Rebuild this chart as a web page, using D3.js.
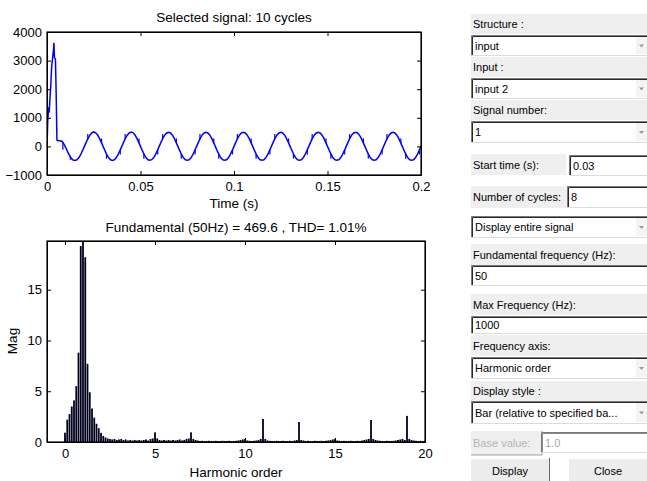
<!DOCTYPE html>
<html lang="en">
<head>
<meta charset="UTF-8">
<title>FFT Analysis</title>
<script src="https://cdn.jsdelivr.net/npm/d3@7"></script>
<style>
  body { margin: 0; background: #fff; }
  svg { display: block; }
  .tick text { font-family: "Liberation Sans", Arial, sans-serif; font-size: 13px; fill: #000; }
  .ttl { font-family: "Liberation Sans", Arial, sans-serif; font-size: 13.5px; fill: #000; }
  .gui { font-family: "Liberation Sans", Arial, sans-serif; font-size: 11px; }
</style>
</head>
<body>
<script>

// ---- top plot: selected signal ----
// start of the record (time s, value)
const startT = [0, 0.0004, 0.0008, 0.0012, 0.0016, 0.002, 0.0025, 0.003, 0.0035, 0.0037, 0.004, 0.0045, 0.0049, 0.0053, 0.006, 0.007, 0.008, 0.009];
const startV = [0, 900, 1300, 1250, 1700, 2100, 2800, 3100, 3400, 3620, 3100, 3050, 1900, 220, 200, 200, 180, 90];

// steady part, one sample per ms from 0.010 s
const steadyT0 = 0.010;
const steadyV = [
  -40, -180, -310, -420, -475, -490, -470, -400, -290, -150, 0, 150, 290, 400, 470, 505, 475, 405, 290, 150,
  0, -150, -290, -400, -470, -490, -470, -400, -290, -150, 0, 150, 290, 400, 470, 500, 475, 405, 290, 150,
  0, -150, -290, -400, -470, -485, -465, -400, -290, -150, 0, 150, 290, 400, 470, 495, 470, 400, 290, 150,
  0, -150, -290, -400, -470, -485, -470, -400, -290, -150, 0, 150, 290, 400, 470, 495, 470, 400, 290, 150,
  0, -150, -290, -400, -465, -480, -465, -400, -290, -150, 0, 150, 290, 400, 470, 495, 470, 400, 290, 150,
  0, -150, -290, -400, -465, -480, -465, -400, -290, -150, 0, 150, 290, 400, 470, 495, 470, 400, 290, 150,
  0, -150, -290, -400, -465, -480, -465, -400, -290, -150, 0, 150, 290, 400, 470, 495, 470, 400, 290, 150,
  0, -150, -290, -400, -465, -480, -465, -400, -290, -150, 0, 150, 290, 400, 470, 495, 470, 400, 290, 150,
  0, -150, -290, -400, -465, -480, -465, -400, -290, -150, 0, 150, 290, 400, 470, 495, 470, 400, 290, 150,
  0, -150, -290, -400, -465, -480, -465, -400, -290, -150, 0
];

// small commutation notches [time, from, to]
const notches = [
  [0.0085, 150, -120], [0.0125, -330, -470],
  [0.0218, 260, 430], [0.0292, 120, 280], [0.0318, -260, -430], [0.0392, -120, -280],
  [0.0418, 260, 430], [0.0492, 120, 280], [0.0518, -260, -430], [0.0592, -120, -280],
  [0.0618, 260, 430], [0.0692, 120, 280], [0.0718, -260, -430], [0.0792, -120, -280],
  [0.0818, 260, 430], [0.0892, 120, 280], [0.0918, -260, -430], [0.0992, -120, -280],
  [0.1018, 260, 430], [0.1092, 120, 280], [0.1118, -260, -430], [0.1192, -120, -280],
  [0.1218, 260, 430], [0.1292, 120, 280], [0.1318, -260, -430], [0.1392, -120, -280],
  [0.1418, 260, 430], [0.1492, 120, 280], [0.1518, -260, -430], [0.1592, -120, -280],
  [0.1618, 260, 430], [0.1692, 120, 280], [0.1718, -260, -430], [0.1792, -120, -280],
  [0.1818, 260, 430], [0.1892, 120, 280], [0.1918, -260, -430], [0.1992, -120, -280]
];

const topTitle = "Selected signal: 10 cycles";
const topXTicks = [0, 0.05, 0.1, 0.15, 0.2];
const topYTicks = [-1000, 0, 1000, 2000, 3000, 4000];

// ---- bottom plot: spectrum, one bar every 1/8 harmonic ----
const binStep = 0.125;
const mag = [
  0.92, 2.2, 2.75, 3.5, 4.1, 5.5, 8.8, 19.3, 469.6, 18.2,
  7.7, 4.9, 3.3, 2.4, 1.8, 1.35, 0.9, 0.6, 0.45, 0.35,
  0.3, 0.25, 0.3, 0.2, 0.25, 0.3, 0.2, 0.25, 0.15, 0.2,
  0.15, 0.2, 0.15, 0.2, 0.15, 0.2, 0.25, 0.15, 0.3, 0.35,
  0.95, 0.35, 0.2, 0.15, 0.2, 0.15, 0.2, 0.15, 0.2, 0.15,
  0.2, 0.25, 0.15, 0.2, 0.3, 0.35, 0.95, 0.3, 0.2, 0.15,
  0.1, 0.12, 0.1, 0.1, 0.12, 0.1, 0.1, 0.12, 0.1, 0.1,
  0.12, 0.1, 0.1, 0.12, 0.1, 0.1, 0.12, 0.15, 0.2, 0.25,
  0.3, 0.15, 0.12, 0.1, 0.12, 0.15, 0.2, 0.3, 2.27, 0.3,
  0.15, 0.12, 0.1, 0.1, 0.12, 0.1, 0.1, 0.12, 0.1, 0.1,
  0.12, 0.1, 0.15, 0.2, 1.97, 0.2, 0.15, 0.1, 0.12, 0.1,
  0.1, 0.12, 0.1, 0.1, 0.12, 0.1, 0.12, 0.15, 0.2, 0.25,
  0.3, 0.15, 0.12, 0.1, 0.12, 0.1, 0.1, 0.12, 0.1, 0.1,
  0.12, 0.1, 0.15, 0.2, 0.25, 0.3, 2.17, 0.3, 0.2, 0.15,
  0.12, 0.1, 0.1, 0.12, 0.1, 0.1, 0.12, 0.15, 0.2, 0.25,
  0.3, 0.2, 2.57, 0.3, 0.2, 0.15, 0.12, 0.1, 0.12, 0.1,
  0.12
];
const botTitle = "Fundamental (50Hz) = 469.6 , THD= 1.01%";
const botXTicks = [0, 5, 10, 15, 20];
const botYTicks = [0, 5, 10, 15];

// ---- control panel ----
// type, text, x, y, w, h
const controls = [
  ["label", "Structure :", 471, 14, 190, 20],
  ["popup", "input", 471, 35, 190, 21],
  ["label", "Input :", 471, 57, 190, 20],
  ["popup", "input 2", 471, 78, 190, 21],
  ["label", "Signal number:", 471, 100, 190, 20],
  ["popup", "1", 471, 121, 190, 22],
  ["label", "Start time (s):", 471, 154, 95, 21],
  ["edit", "0.03", 569, 155, 90, 21],
  ["label", "Number of cycles:", 471, 186, 96, 22],
  ["edit", "8", 567, 186, 90, 22],
  ["popup", "Display entire signal", 471, 216, 190, 22],
  ["label", "Fundamental frequency (Hz):", 471, 244, 190, 21],
  ["edit", "50", 471, 265, 190, 21],
  ["label", "Max Frequency (Hz):", 471, 294, 190, 21],
  ["edit", "1000", 471, 316, 190, 18],
  ["label", "Frequency axis:", 471, 335, 190, 21],
  ["popup", "Harmonic order", 471, 357, 190, 22],
  ["label", "Display style :", 471, 381, 190, 20],
  ["popup", "Bar (relative to specified ba...", 471, 401, 190, 23],
  ["dlabel", "Base value:", 471, 431, 71, 24],
  ["dedit", "1.0", 541, 432, 120, 21],
  ["button", "Display", 470, 458, 80, 24],
  ["button", "Close", 568, 458, 80, 24]
];

const W = 647, H = 481;
const svg = d3.select("body").append("svg").attr("width", W).attr("height", H);

function boxAxes(g, x, y, xTicks, yTicks, fmtX, fmtY) {
  const [x0, x1] = x.range(), [y0, y1] = y.range();
  g.append("g").attr("transform", `translate(0,${y0})`)
    .call(d3.axisBottom(x).tickValues(xTicks).tickSize(-4).tickSizeOuter(0).tickPadding(7).tickFormat(fmtX));
  g.append("g").attr("transform", `translate(0,${y1})`)
    .call(d3.axisTop(x).tickValues(xTicks).tickSize(-4).tickSizeOuter(0).tickFormat(""));
  g.append("g").attr("transform", `translate(${x0},0)`)
    .call(d3.axisLeft(y).tickValues(yTicks).tickSize(-4).tickSizeOuter(0).tickPadding(5).tickFormat(fmtY));
  g.append("g").attr("transform", `translate(${x1},0)`)
    .call(d3.axisRight(y).tickValues(yTicks).tickSize(-4).tickSizeOuter(0).tickFormat(""));
  g.selectAll(".domain, .tick line").attr("stroke", "#000");
  g.append("rect").attr("x", x0).attr("y", y1).attr("width", x1 - x0).attr("height", y0 - y1)
    .attr("fill", "none").attr("stroke", "#000").attr("stroke-width", 1.2);
}

// ---- top plot ----
const xT = d3.scaleLinear().domain([0, 0.2]).range([47, 421]);
const yT = d3.scaleLinear().domain([-1000, 4000]).range([175, 32]);

const sig = startT.map((t, i) => [t, startV[i]])
  .concat(steadyV.map((v, i) => [steadyT0 + i * 0.001, v]));

svg.append("clipPath").attr("id", "clipT").append("rect")
  .attr("x", 47).attr("y", 32).attr("width", 374).attr("height", 143);

const gT = svg.append("g");
gT.append("path").datum(sig)
  .attr("clip-path", "url(#clipT)")
  .attr("fill", "none").attr("stroke", "#0000ff").attr("stroke-width", 1.5)
  .attr("d", d3.line().x(d => xT(d[0])).y(d => yT(d[1])));
gT.append("g").attr("clip-path", "url(#clipT)").selectAll("line").data(notches).join("line")
  .attr("x1", d => xT(d[0])).attr("x2", d => xT(d[0]))
  .attr("y1", d => yT(d[1])).attr("y2", d => yT(d[2]))
  .attr("stroke", "#0000ff").attr("stroke-width", 1.2);
boxAxes(gT, xT, yT, topXTicks, topYTicks, d3.format(""), d3.format("d"));

gT.append("text").attr("class", "ttl").attr("x", 234).attr("y", 22).attr("text-anchor", "middle").text(topTitle);
gT.append("text").attr("class", "ttl").attr("x", 234).attr("y", 208).attr("text-anchor", "middle").text("Time (s)");

// ---- bottom plot ----
const xB = d3.scaleLinear().domain([-1, 20]).range([47, 425]);
const yB = d3.scaleLinear().domain([0, 19.8]).range([442, 241]);

svg.append("clipPath").attr("id", "clipB").append("rect")
  .attr("x", 47).attr("y", 241).attr("width", 378).attr("height", 201);

const gB = svg.append("g");
const bw = xB(binStep * 0.8) - xB(0);
gB.append("g").attr("clip-path", "url(#clipB)").selectAll("rect").data(mag).join("rect")
  .attr("x", (d, i) => xB(i * binStep) - bw / 2)
  .attr("width", bw)
  .attr("y", d => yB(d))
  .attr("height", d => yB(0) - yB(d))
  .attr("fill", "#00001e");
boxAxes(gB, xB, yB, botXTicks, botYTicks, d3.format("d"), d3.format("d"));

gB.append("text").attr("class", "ttl").attr("x", 236).attr("y", 232).attr("text-anchor", "middle").text(botTitle);
gB.append("text").attr("class", "ttl").attr("x", 236).attr("y", 477).attr("text-anchor", "middle").text("Harmonic order");
gB.append("text").attr("class", "ttl").attr("transform", "translate(17,341) rotate(-90)")
  .attr("text-anchor", "middle").text("Mag");

// ---- control panel ----
const gG = svg.append("g");
controls.forEach(([type, txt, x, y, w, h]) => {
  const c = gG.append("g");
  const dim = type === "dlabel" || type === "dedit";
  if (type === "label" || type === "dlabel") {
    c.append("rect").attr("x", x).attr("y", y).attr("width", w).attr("height", h).attr("fill", "#efefef");
    c.append("text").attr("class", "gui").attr("x", x + 2).attr("y", y + h / 2 + 4)
      .style("fill", dim ? "#b4b4b4" : "#000").text(txt);
    if (dim) {
      c.append("line").attr("x1", x + w).attr("x2", x + w).attr("y1", y).attr("y2", y + h).attr("stroke", "#a0a0a0");
      c.append("line").attr("x1", x).attr("x2", x + w).attr("y1", y + h).attr("y2", y + h).attr("stroke", "#a0a0a0");
    }
  } else if (type === "button") {
    c.append("rect").attr("x", x).attr("y", y).attr("width", w).attr("height", h).attr("fill", "#ececec");
    c.append("path").attr("d", `M${x + 0.5},${y + h} V${y + 0.5} H${x + w}`).attr("stroke", "#fff").attr("fill", "none");
    c.append("path").attr("d", `M${x + 0.5},${y + h - 0.5} H${x + w - 0.5} V${y}`).attr("stroke", "#6a6a6a").attr("fill", "none");
    c.append("text").attr("class", "gui").attr("x", x + w / 2).attr("y", y + h / 2 + 5)
      .attr("text-anchor", "middle").style("fill", "#000").text(txt);
  } else {
    c.append("rect").attr("x", x).attr("y", y).attr("width", w).attr("height", h).attr("fill", "#fff");
    c.append("path").attr("d", `M${x + 0.5},${y + h} V${y + 0.5} H${x + w}`).attr("stroke", "#7a7a7a").attr("fill", "none");
    c.append("path").attr("d", `M${x + 1.5},${y + h - 1} V${y + 1.5} H${x + w}`).attr("stroke", dim ? "#8a8a8a" : "#2a2a2a").attr("fill", "none");
    c.append("line").attr("x1", x).attr("x2", x + w).attr("y1", y + h - 0.5).attr("y2", y + h - 0.5).attr("stroke", "#dcdcdc");
    c.append("text").attr("class", "gui").attr("x", x + 4).attr("y", y + h / 2 + 4)
      .style("fill", dim ? "#a8a8a8" : "#000").text(txt);
    if (type === "popup") {
      c.append("rect").attr("x", 636).attr("y", y + 2).attr("width", 12).attr("height", h - 4).attr("fill", "#f4f4f4");
      c.append("path").attr("d", `M639,${y + h / 2 - 1} h5 l-2.5,3 z`).attr("fill", "#9a9a9a");
    }
  }
});

</script>
</body>
</html>
